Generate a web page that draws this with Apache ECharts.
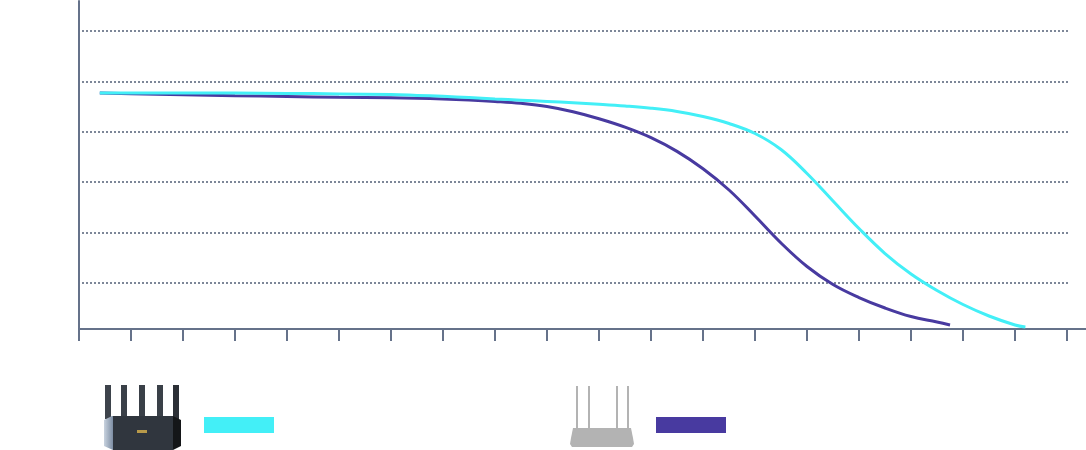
<!DOCTYPE html>
<html>
<head>
<meta charset="utf-8">
<title>router throughput</title>
<script src="https://cdn.jsdelivr.net/npm/echarts@6/dist/echarts.min.js"></script>
<style>
  html, body { margin: 0; padding: 0; background: #fff; }
  #main { width: 1086px; height: 450px; }
</style>
</head>
<body>
<div id="main"></div>
<script>
// x in tick steps, y in grid units (one dotted line = 100)
const tickValues = [0, 1, 2, 3, 4, 5, 6, 7, 8, 9, 10, 11, 12, 13, 14, 15, 16, 17, 18, 19];
const gridLevels = [100, 200, 300, 400, 500, 600];

const seriesNames = ['Tenda 路由器', '普通路由器'];

const tendaX = [0.4, 1, 2, 3, 4, 5, 6, 6.5, 7, 7.5, 8, 8.5, 9, 9.5, 10, 10.5, 11, 11.5, 12, 12.5, 13, 13.5, 14, 14.5, 15, 15.5, 16, 16.5, 17, 17.5, 18, 18.2];
const tendaY = [477, 477, 477, 476.8, 476.2, 475.2, 473.8, 472.2, 470.4, 467.9, 465.1, 462.7, 460.3, 457.5, 454.6, 451.2, 446.8, 440.3, 430.4, 416.5, 396.6, 364.9, 317.3, 262.7, 208.1, 158.5, 117.9, 85.1, 57.3, 34.5, 16.7, 12.7];

const otherX = [0.4, 1, 2, 3, 4, 5, 6, 6.5, 7, 7.5, 8, 8.5, 9, 9.5, 10, 10.5, 11, 11.5, 12, 12.5, 13, 13.5, 14, 14.5, 15, 15.5, 16, 16.5, 16.75];
const otherY = [477, 475.4, 473.4, 471.6, 470, 468.6, 467.5, 466.5, 465.1, 463.1, 460.3, 456.5, 450.2, 439.7, 425.8, 409.1, 388.3, 361.1, 326.6, 284.5, 232.9, 179.4, 132.7, 97, 71.2, 50.4, 33.5, 22.6, 16.7];

const colors = ['#43EFF7', '#483AA0'];
const axisColor = '#65728a';

function pairs(xs, ys) {
  var out = [];
  for (var i = 0; i < xs.length; i++) {
    out.push([xs[i], ys[i]]);
  }
  return out;
}

var chart = echarts.init(document.getElementById('main'), null, { renderer: 'canvas' });

var option = {
  animation: false,
  color: colors,
  grid: [
    // data grid: axis lines
    { left: 79, right: 0, top: 1, bottom: 121 },
    // dotted level lines
    { left: 82, right: 18, top: 31, bottom: 116.6 }
  ],
  legend: {
    data: seriesNames,
    left: 199,
    top: 412,
    icon: 'rect',
    itemWidth: 70,
    itemHeight: 16,
    itemGap: 382,
    formatter: function () { return ''; },
    selectedMode: false
  },
  xAxis: [
    {
      type: 'value',
      gridIndex: 0,
      min: 0,
      max: 19.365,
      axisLine: { show: true, lineStyle: { color: axisColor, width: 2 } },
      axisTick: { show: true, length: 12, customValues: tickValues, lineStyle: { color: axisColor, width: 2 } },
      axisLabel: { show: false },
      splitLine: { show: false }
    },
    {
      type: 'value',
      gridIndex: 1,
      min: 0,
      max: 1,
      show: false
    }
  ],
  yAxis: [
    {
      type: 'value',
      gridIndex: 0,
      min: 8.73,
      max: 659.5,
      axisLine: { show: true, lineStyle: { color: axisColor, width: 2 } },
      axisTick: { show: false },
      axisLabel: { show: false },
      splitLine: { show: false }
    },
    {
      type: 'value',
      gridIndex: 1,
      min: 0,
      max: gridLevels[gridLevels.length - 1],
      interval: gridLevels[0],
      axisLine: { show: false },
      axisTick: { show: false },
      axisLabel: { show: false },
      splitLine: {
        show: true,
        showMinLine: false,
        lineStyle: { color: '#7d8798', width: 2, type: [2, 2] }
      }
    }
  ],
  series: [
    {
      name: seriesNames[0],
      type: 'line',
      xAxisIndex: 0,
      yAxisIndex: 0,
      smooth: 0.4,
      showSymbol: false,
      lineStyle: { width: 3, color: colors[0] },
      data: pairs(tendaX, tendaY),
      z: 3
    },
    {
      name: seriesNames[1],
      type: 'line',
      xAxisIndex: 0,
      yAxisIndex: 0,
      smooth: 0.4,
      showSymbol: false,
      lineStyle: { width: 3, color: colors[1] },
      data: pairs(otherX, otherY),
      z: 2
    }
  ],
  // router pictures next to the legend swatches
  graphic: [
    // left router, dark, five antennas
    { type: 'rect', shape: { x: 105, y: 385, width: 6, height: 34 }, style: { fill: '#3d434b' } },
    { type: 'rect', shape: { x: 121, y: 385, width: 6, height: 34 }, style: { fill: '#3a4048' } },
    { type: 'rect', shape: { x: 139, y: 385, width: 6, height: 34 }, style: { fill: '#3a4048' } },
    { type: 'rect', shape: { x: 157, y: 385, width: 6, height: 34 }, style: { fill: '#3a4048' } },
    { type: 'rect', shape: { x: 173, y: 385, width: 6, height: 34 }, style: { fill: '#2c3036' } },
    {
      type: 'polygon',
      shape: { points: [[104, 420], [112, 416], [113, 416], [113, 450], [104, 446]] },
      style: {
        fill: new echarts.graphic.LinearGradient(0, 0, 1, 0, [
          { offset: 0, color: '#c9d3df' },
          { offset: 1, color: '#7d8ea4' }
        ])
      }
    },
    { type: 'rect', shape: { x: 113, y: 416, width: 60, height: 34 }, style: { fill: '#30363e' } },
    { type: 'polygon', shape: { points: [[173, 416], [181, 420], [181, 446], [173, 450]] }, style: { fill: '#141618' } },
    { type: 'rect', shape: { x: 137, y: 430, width: 10, height: 3 }, style: { fill: '#b89a4a' } },

    // right router, grey, four thin antennas
    { type: 'rect', shape: { x: 576, y: 386, width: 2, height: 42 }, style: { fill: '#b3b3b3' } },
    { type: 'rect', shape: { x: 588, y: 386, width: 2, height: 42 }, style: { fill: '#b3b3b3' } },
    { type: 'rect', shape: { x: 616, y: 386, width: 2, height: 42 }, style: { fill: '#b3b3b3' } },
    { type: 'rect', shape: { x: 627, y: 386, width: 2, height: 42 }, style: { fill: '#b3b3b3' } },
    {
      type: 'polygon',
      shape: { points: [[573, 428], [631, 428], [633, 438], [634, 444], [632, 447], [572, 447], [570, 444], [571, 438]] },
      style: { fill: '#b3b3b3' }
    }
  ]
};

chart.setOption(option);
</script>
</body>
</html>
